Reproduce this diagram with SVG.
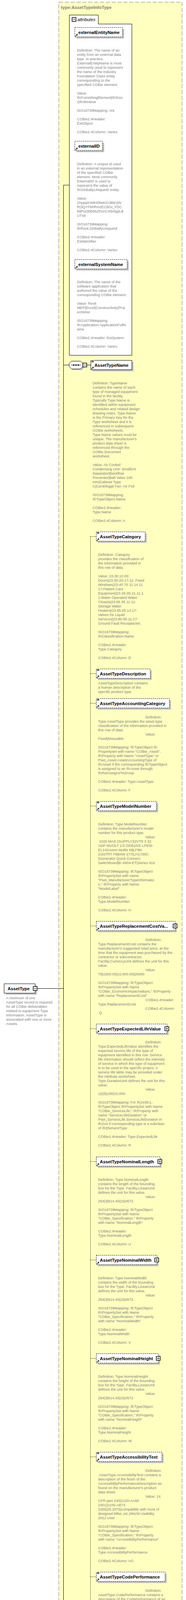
<svg xmlns="http://www.w3.org/2000/svg" width="476" height="7871" viewBox="0 0 476 7871" xml:space="preserve">
<style>
.a{font-family:"Liberation Sans",Arial,sans-serif;font-size:9.3px;fill:#808080}
.nm{font-family:"Liberation Sans",Arial,sans-serif;font-size:11.3px;font-weight:bold;fill:#000}
.ttl{font-family:"Liberation Sans",Arial,sans-serif;font-size:11.3px;font-weight:bold;fill:#808080}
.it{font-family:"Liberation Sans",Arial,sans-serif;font-size:11.2px;font-style:italic;fill:#000}
.sh{fill:#c0c0c0}
.bx{fill:#fff;stroke:#000;stroke-width:1}
.opt{stroke-dasharray:3 2}
.ln{fill:none;stroke:#000;stroke-width:1}
.dt{fill:none;stroke:#000;stroke-width:1;stroke-dasharray:2 2}
</style>
<defs>
<g id="doc"><rect x="0.5" y="-1" width="8" height="6" fill="#fff"/><path d="M1.5,0.5H7.5M1.5,2.3H7.5M1.5,4.1H7.5" stroke="#000" stroke-width="1"/></g>
<g id="ref"><path d="M1.5,-1.5L5,-5" stroke="#000" stroke-width="1.4"/><path d="M3,-7H7V-3Z" fill="#000"/></g>
<g id="plus"><rect x="-5" y="-5" width="10" height="10" fill="#fff" stroke="#000" stroke-width="1.5"/><path d="M-3,0H3M0,-3V3" stroke="#000" stroke-width="1"/></g>
<g id="minus"><rect x="-5" y="-5" width="10" height="10" fill="#fff" stroke="#000" stroke-width="1.5"/><path d="M-3,0H3" stroke="#000" stroke-width="1"/></g>
<g id="seq"><path d="M3,-1L9,-7H32L38,-1V7L32,13H9L3,7Z" fill="#c0c0c0"/><path d="M0,-4L6,-10H29L35,-4V4L29,10H6L0,4Z" fill="#fff" stroke="#000"/><path d="M5,0H30" stroke="#000"/><rect x="10" y="-1.5" width="3" height="3"/><rect x="16" y="-1.5" width="3" height="3"/><rect x="22" y="-1.5" width="3" height="3"/></g>
</defs>

<g id="typeBox">
<rect x="150.5" y="5.5" width="315.5" height="7860" fill="#ffffc0" stroke="#808080" stroke-dasharray="11 4"/>
<text class="ttl" x="156" y="23.2">type:AssetTypeInfoType</text>
</g>

<g id="connectors">
<path class="ln" d="M162.5,474 V4587.5 M162.5,474 H177.5 M95,2530.5 H162.5 M162.5,934.5 H177 M162.5,4587.5 H177 M222,934.5 H232.5"/>
<path class="dt" d="M222,4587.5 H231.5 M231.5,1373.5 V7802.5 M231.5,1373.5 H246 M231.5,1724.5 H246 M231.5,1800.5 H246 M231.5,2063.5 H246 M231.5,2370.5 H246 M231.5,2633.5 H246 M231.5,2973.5 H246 M231.5,3225.5 H246 M231.5,3477.5 H246 M231.5,3729.5 H246 M231.5,4036.5 H246 M231.5,4321.5 H246 M231.5,4661.5 H246 M231.5,4902.5 H246 M231.5,5209.5 H246 M231.5,5505.5 H246 M231.5,5757.5 H246 M231.5,6020.5 H246 M231.5,6261.5 H246 M231.5,6513.5 H246 M231.5,6809.5 H246 M231.5,6929.5 H246 M231.5,7192.5 H246 M231.5,7268.5 H246 M231.5,7355.5 H246 M231.5,7585.5 H246 M231.5,7650.5 H246 M231.5,7726.5 H246 M231.5,7802.5 H246"/>
</g>

<g id="n-AssetType">
<rect class="sh" x="14.5" y="2522.5" width="79.5" height="24"/>
<rect class="bx" x="10.5" y="2518.5" width="79.5" height="24"/>
<text class="nm" x="19.5" y="2534.5">AssetType</text>
<use href="#minus" x="90" y="2530.5"/>
<text class="a" x="15.7" y="2557.7"><tspan x="15.7" dy="0">A minimum of one</tspan><tspan x="15.7" dy="11">AssetType record is required</tspan><tspan x="15.7" dy="11">for all COBie deliverables</tspan><tspan x="15.7" dy="11">related to equipment Type</tspan><tspan x="15.7" dy="11">information. AssetType is</tspan><tspan x="15.7" dy="11">associated with one or more</tspan><tspan x="15.7" dy="11">Assets.</tspan></text>
</g>

<g id="n-attributes">
<path class="bx" d="M177.5,38.5 H251.5 V61.5 H337.5 V909.5 H177.5 Z"/>
<use href="#minus" x="189.5" y="50"/>
<text class="it" x="198" y="54.4">attributes</text>
</g>

<g id="n-externalEntityName">
<rect class="sh" x="195.5" y="74.5" width="122" height="24"/>
<rect class="bx opt" x="191.5" y="70.5" width="122" height="24"/>
<use href="#ref" x="191.5" y="94.5"/>
<text class="nm" x="200.5" y="86.5">externalEntityName</text>
<text class="a" x="197" y="131.8"><tspan x="197" dy="0">Definition:  The name of an</tspan><tspan x="197" dy="11">entity from an external data</tspan><tspan x="197" dy="11">type.  In practice,</tspan><tspan x="197" dy="11">ExternalEntityName is most</tspan><tspan x="197" dy="11">commonly used to represent</tspan><tspan x="197" dy="11">the name of the Industry</tspan><tspan x="197" dy="11">Foundation Class entity</tspan><tspan x="197" dy="11">corresponding to the</tspan><tspan x="197" dy="11">specified COBie element.</tspan><tspan x="197" dy="22">Value:</tspan><tspan x="197" dy="11">IfcFurnishingElement|IfcDoo</tspan><tspan x="197" dy="11">r|IfcWindow</tspan><tspan x="197" dy="22">ISO16739Mapping:  n/a</tspan><tspan x="197" dy="22">COBie2.4Header:</tspan><tspan x="197" dy="11">ExtObject</tspan><tspan x="197" dy="22">COBie2.4Column:  Varies</tspan></text>
</g>

<g id="n-externalID">
<rect class="sh" x="195.5" y="365.5" width="71" height="24"/>
<rect class="bx opt" x="191.5" y="361.5" width="71" height="24"/>
<use href="#ref" x="191.5" y="385.5"/>
<text class="nm" x="200.5" y="377.5">externalID</text>
<text class="a" x="197" y="422.8"><tspan x="197" dy="0">Definition:  A unique id used</tspan><tspan x="197" dy="11">in an external representation</tspan><tspan x="197" dy="11">of the specified COBie</tspan><tspan x="197" dy="11">element. Most commonly</tspan><tspan x="197" dy="11">ExternalID is used to</tspan><tspan x="197" dy="11">represent the value of</tspan><tspan x="197" dy="11">IfcGloballyUniqueID entity.</tspan><tspan x="197" dy="22">Value:</tspan><tspan x="197" dy="11">1hypqXnMHDlwKZc9bkVjN</tspan><tspan x="197" dy="11">R|3QYFkhRmzECBGi_FDC</tspan><tspan x="197" dy="11">88Pu|30b56ZPunCX9x5gIL$</tspan><tspan x="197" dy="11">UTx9</tspan><tspan x="197" dy="22">ISO16739Mapping:</tspan><tspan x="197" dy="11">IfcRoot.GloballyUniqueId</tspan><tspan x="197" dy="22">COBie2.4Header:</tspan><tspan x="197" dy="11">ExtIdentifier</tspan><tspan x="197" dy="22">COBie2.4Column:  Varies</tspan></text>
</g>

<g id="n-externalSystemName">
<rect class="sh" x="195.5" y="668.5" width="134" height="24"/>
<rect class="bx opt" x="191.5" y="664.5" width="134" height="24"/>
<use href="#ref" x="191.5" y="688.5"/>
<text class="nm" x="200.5" y="680.5">externalSystemName</text>
<text class="a" x="197" y="724.6"><tspan x="197" dy="0">Definition:  The name of the</tspan><tspan x="197" dy="11">software application that</tspan><tspan x="197" dy="11">authored the value of the</tspan><tspan x="197" dy="11">corresponding COBie element.</tspan><tspan x="197" dy="22">Value:  Revit</tspan><tspan x="197" dy="11">MEP|Excel|Constructivity|Proj</tspan><tspan x="197" dy="11">ectWise</tspan><tspan x="197" dy="22">ISO16739Mapping:</tspan><tspan x="197" dy="11">IfcApplication.ApplicationFullN</tspan><tspan x="197" dy="11">ame</tspan><tspan x="197" dy="22">COBie2.4Header:  ExtSystem</tspan><tspan x="197" dy="22">COBie2.4Column:  Varies</tspan></text>
</g>

<g id="n-sequence1">
<use href="#seq" x="177" y="934.5"/>
<use href="#minus" x="217" y="934.5"/>
</g>

<g id="n-AssetTypeName">
<rect class="sh" x="236.5" y="926.5" width="105" height="24"/>
<rect class="bx" x="232.5" y="922.5" width="105" height="24"/>
<use href="#doc" x="232.5" y="922.5"/>
<use href="#ref" x="232.5" y="946.5"/>
<text class="nm" x="241.7" y="938.5">AssetTypeName</text>
<text class="a" x="237" y="983.6"><tspan x="237" dy="0">Definition:  TypeName</tspan><tspan x="237" dy="11">contains the name of each</tspan><tspan x="237" dy="11">type of managed equipment</tspan><tspan x="237" dy="11">found in the facility.</tspan><tspan x="237" dy="11">Typically Type.Name is</tspan><tspan x="237" dy="11">identified within equipment</tspan><tspan x="237" dy="11">schedules and related design</tspan><tspan x="237" dy="11">drawing notes.  Type.Name</tspan><tspan x="237" dy="11">is the Primary Key for the</tspan><tspan x="237" dy="11">Type worksheet and it is</tspan><tspan x="237" dy="11">referenced in subsequent</tspan><tspan x="237" dy="11">COBie worksheets.</tspan><tspan x="237" dy="11">Type.Name values must be</tspan><tspan x="237" dy="11">unique.  The manufacturer's</tspan><tspan x="237" dy="11">product data sheet is</tspan><tspan x="237" dy="11">referenced through the</tspan><tspan x="237" dy="11">COBie.Document</tspan><tspan x="237" dy="11">worksheet.</tspan><tspan x="237" dy="22">Value:  Air Cooled</tspan><tspan x="237" dy="11">Condensing Unit- Small|Air</tspan><tspan x="237" dy="11">Separator|Backflow</tspan><tspan x="237" dy="11">Preventer|Ball Valve 100</tspan><tspan x="237" dy="11">mm|Cabinet Type</tspan><tspan x="237" dy="11">C|Centrifugal Fan- Air Foil</tspan><tspan x="237" dy="22">ISO16739Mapping:</tspan><tspan x="237" dy="11">IfcTypeObject.Name</tspan><tspan x="237" dy="22">COBie2.4Header:</tspan><tspan x="237" dy="11">Type.Name</tspan><tspan x="237" dy="22">COBie2.4Column:  A</tspan></text>
</g>

<g id="n-sequence2">
<use href="#seq" x="177" y="4587.5"/>
<use href="#minus" x="217" y="4587.5"/>
</g>

<g id="n-AssetTypeCategory">
<rect class="sh" x="250.5" y="1365.5" width="125" height="24"/>
<rect class="bx opt" x="246.5" y="1361.5" width="125" height="24"/>
<use href="#doc" x="246.5" y="1361.5"/>
<use href="#ref" x="246.5" y="1385.5"/>
<text class="nm" x="255.5" y="1377.5">AssetTypeCategory</text>
<text class="a" x="251" y="1422.7"><tspan x="251" dy="0">Definition:  Category</tspan><tspan x="251" dy="11">provides the classification of</tspan><tspan x="251" dy="11">the information provided in</tspan><tspan x="251" dy="11">this row of data.</tspan><tspan x="251" dy="22">Value:  23.30.10.00:</tspan><tspan x="251" dy="11">Doors|23.30-20-17-11: Fixed</tspan><tspan x="251" dy="11">Windows|23-40 70 11 14 11</tspan><tspan x="251" dy="11">17:Patient Care</tspan><tspan x="251" dy="11">Equipment|23.45.05.21.11.1</tspan><tspan x="251" dy="11">1:Water Operated Water</tspan><tspan x="251" dy="11">Closets|23.65 35 11 11:</tspan><tspan x="251" dy="11">Storage Water</tspan><tspan x="251" dy="11">Heaters|23.65.55.14.17:</tspan><tspan x="251" dy="11">Valves for Liquid</tspan><tspan x="251" dy="11">Services|23.80.50.11.17:</tspan><tspan x="251" dy="11">Ground Fault Receptacles</tspan><tspan x="251" dy="22">ISO16739Mapping:</tspan><tspan x="251" dy="11">IfcClassification.Name</tspan><tspan x="251" dy="22">COBie2.4Header:</tspan><tspan x="251" dy="11">Type.Category</tspan><tspan x="251" dy="22">COBie2.4Column:  D</tspan></text>
</g>

<g id="n-AssetTypeDescription">
<rect class="sh" x="250.5" y="1716.5" width="138" height="24"/>
<rect class="bx opt" x="246.5" y="1712.5" width="138" height="24"/>
<use href="#doc" x="246.5" y="1712.5"/>
<use href="#ref" x="246.5" y="1736.5"/>
<text class="nm" x="255.5" y="1728.5">AssetTypeDescription</text>
<text class="a" x="251" y="1751.8"><tspan x="251" dy="0">AssetTypeDescription contains</tspan><tspan x="251" dy="11">a human description of the</tspan><tspan x="251" dy="11">specific product type.</tspan></text>
</g>

<g id="n-AssetTypeAccountingCategory">
<rect class="sh" x="250.5" y="1792.5" width="187" height="24"/>
<rect class="bx opt" x="246.5" y="1788.5" width="187" height="24"/>
<use href="#doc" x="246.5" y="1788.5"/>
<use href="#ref" x="246.5" y="1812.5"/>
<text class="nm" x="255.5" y="1804.5">AssetTypeAccountingCategory</text>
<text class="a" x="251" y="1838.9"><tspan x="372" dy="0">Definition:</tspan><tspan x="251" dy="11">Type.AssetType provides the asset type</tspan><tspan x="251" dy="11">classification of the information provided in</tspan><tspan x="251" dy="11">this row of data.</tspan><tspan x="372" dy="11">Value:</tspan><tspan x="251" dy="11">Fixed|Moveable</tspan><tspan x="251" dy="22">ISO16739Mapping:  IfcTypeObject Ifc</tspan><tspan x="251" dy="11">Propertyset with name "COBie_Asset",</tspan><tspan x="251" dy="11">IfcProperty with Name "AssetType" or</tspan><tspan x="251" dy="11">Pset_Asset.AssetAccountingType of</tspan><tspan x="251" dy="11">IfcAsset if the corresponding IfcTypeObject</tspan><tspan x="251" dy="11">is assigned to an IfcAsset through</tspan><tspan x="251" dy="11">IfcRelAssignsToGroup</tspan><tspan x="251" dy="22">COBie2.4Header:  Type.AssetType</tspan><tspan x="251" dy="22">COBie2.4Column:  F</tspan></text>
</g>

<g id="n-AssetTypeModelNumber">
<rect class="sh" x="250.5" y="2055.5" width="154" height="24"/>
<rect class="bx opt" x="246.5" y="2051.5" width="154" height="24"/>
<use href="#doc" x="246.5" y="2051.5"/>
<use href="#ref" x="246.5" y="2075.5"/>
<text class="nm" x="255.5" y="2067.5">AssetTypeModelNumber</text>
<text class="a" x="251" y="2112.9"><tspan x="251" dy="0">Definition:  Type.ModelNumber</tspan><tspan x="251" dy="11">contains the manufacturer's model</tspan><tspan x="251" dy="11">number for this product type.</tspan><tspan x="372" dy="11">Value:</tspan><tspan x="251" dy="11"> 1020 MAS (SUPPLY)|2VT8 3 32</tspan><tspan x="251" dy="11">ADP MVOLT 1/3 GEB10IS LP830</tspan><tspan x="251" dy="11">EL14|Axiom Multix M|LF8N</tspan><tspan x="251" dy="11">2/26TRT F8B4W 277|LH1720C</tspan><tspan x="251" dy="11">|Generator Quick Connect</tspan><tspan x="251" dy="11">Switchboard|K-4904-ET|Series 416</tspan><tspan x="251" dy="22">ISO16739Mapping:  IfcTypeObject</tspan><tspan x="251" dy="11">IfcPropertySet with name</tspan><tspan x="251" dy="11">"Pset_ManufacturerTypeInformatio</tspan><tspan x="251" dy="11">n,"  IfcProperty with Name</tspan><tspan x="251" dy="11">"ModelLabel"</tspan><tspan x="251" dy="22">COBie2.4Header:</tspan><tspan x="251" dy="11">Type.ModelNumber</tspan><tspan x="251" dy="22">COBie2.4Column:  H</tspan></text>
</g>

<g id="n-AssetTypeReplacementCostValue">
<rect class="sh" x="250.5" y="2362.5" width="202" height="24"/>
<rect class="bx opt" x="246.5" y="2358.5" width="202" height="24"/>
<use href="#ref" x="246.5" y="2382.5"/>
<text class="nm" x="255.5" y="2374.5">AssetTypeReplacementCostVa...</text>
<use href="#plus" x="448" y="2370.5"/>
<text class="a" x="251" y="2408.5"><tspan x="372" dy="0">Definition:</tspan><tspan x="251" dy="11">Type.ReplacementCost contains the</tspan><tspan x="251" dy="11">manufacturer's suggested retail price, at the</tspan><tspan x="251" dy="11">time that the equipment was purchased by the</tspan><tspan x="251" dy="11">contractor or subcontractor.</tspan><tspan x="251" dy="11">Facility.CurrencyUnit defines the unit for this</tspan><tspan x="251" dy="11">value.</tspan><tspan x="372" dy="11">Value:</tspan><tspan x="251" dy="11">75|1500.00|10,000.00|25000</tspan><tspan x="251" dy="22">ISO16739Mapping:  IfcTypeObject</tspan><tspan x="251" dy="11">IfcPropertySet with Name</tspan><tspan x="251" dy="11">"COBie_EconomicImpactValues," IfcProperty</tspan><tspan x="251" dy="11">with name  "ReplacementCost"</tspan><tspan x="372" dy="11">COBie2.4Header:</tspan><tspan x="251" dy="11">Type.ReplacementCost</tspan><tspan x="372" dy="11">COBie2.4Column:</tspan><tspan x="251" dy="11"> Q</tspan></text>
</g>

<g id="n-AssetTypeExpectedLifeValue">
<rect class="sh" x="250.5" y="2625.5" width="181" height="24"/>
<rect class="bx opt" x="246.5" y="2621.5" width="181" height="24"/>
<use href="#ref" x="246.5" y="2645.5"/>
<text class="nm" x="255.5" y="2637.5">AssetTypeExpectedLifeValue</text>
<use href="#plus" x="427" y="2633.5"/>
<text class="a" x="251" y="2671.3"><tspan x="372" dy="0">Definition:</tspan><tspan x="251" dy="11">Type.ExpectedLifeValue identifies the</tspan><tspan x="251" dy="11">expected service life of the type of</tspan><tspan x="251" dy="11">equipment identified in this row.  Service</tspan><tspan x="251" dy="11">life information should reflect the intensity</tspan><tspan x="251" dy="11">of service in which this type of equipment</tspan><tspan x="251" dy="11">is to be used in the specific project.  A</tspan><tspan x="251" dy="11">service life table may be provided under</tspan><tspan x="251" dy="11">the Attribute worksheet.</tspan><tspan x="251" dy="11">Type.DurationUnit defines the unit for this</tspan><tspan x="251" dy="11">value.</tspan><tspan x="372" dy="11">Value:</tspan><tspan x="251" dy="11">1|2|5|100|10,000</tspan><tspan x="251" dy="22">ISO16739Mapping: For Ifc2x3tc1,</tspan><tspan x="251" dy="11">IfcTypeObject IfcPropertySet with Name</tspan><tspan x="251" dy="11">"COBie_ServiceLife," IfcProperty with</tspan><tspan x="251" dy="11">name  "ServiceLifeDuration" or</tspan><tspan x="251" dy="11">Pset_ServiceLife.ServiceLifeDuration in</tspan><tspan x="251" dy="11">Ifc2x4 if corresponding type is a subclass</tspan><tspan x="251" dy="11">of IfcElementType</tspan><tspan x="251" dy="22">COBie2.4Header:  Type.ExpectedLife</tspan><tspan x="251" dy="22">COBie2.4Column:  R</tspan></text>
</g>

<g id="n-AssetTypeNominalLength">
<rect class="sh" x="250.5" y="2965.5" width="163" height="24"/>
<rect class="bx opt" x="246.5" y="2961.5" width="163" height="24"/>
<use href="#ref" x="246.5" y="2985.5"/>
<text class="nm" x="255.5" y="2977.5">AssetTypeNominalLength</text>
<use href="#plus" x="409" y="2973.5"/>
<text class="a" x="251" y="3022.8"><tspan x="251" dy="0">Definition:  Type.NominalLength</tspan><tspan x="251" dy="11">contains the length of the bounding</tspan><tspan x="251" dy="11">box for the Type.  Facility.LinearUnit</tspan><tspan x="251" dy="11">defines the unit for this value.</tspan><tspan x="372" dy="11">Value:</tspan><tspan x="251" dy="11">254|3|914.40|15|4572</tspan><tspan x="251" dy="22">ISO16739Mapping: IfcTypeObject</tspan><tspan x="251" dy="11">IfcPropertySet with Name</tspan><tspan x="251" dy="11">"COBie_Specification," IfcProperty</tspan><tspan x="251" dy="11">with name "NominalLength"</tspan><tspan x="251" dy="22">COBie2.4Header:</tspan><tspan x="251" dy="11">Type.NominalLength</tspan><tspan x="251" dy="22">COBie2.4Column:  U</tspan></text>
</g>

<g id="n-AssetTypeNominalWidth">
<rect class="sh" x="250.5" y="3217.5" width="155" height="24"/>
<rect class="bx opt" x="246.5" y="3213.5" width="155" height="24"/>
<use href="#ref" x="246.5" y="3237.5"/>
<text class="nm" x="255.5" y="3229.5">AssetTypeNominalWidth</text>
<use href="#plus" x="401" y="3225.5"/>
<text class="a" x="251" y="3274.8"><tspan x="251" dy="0">Definition:  Type.NominalWidth</tspan><tspan x="251" dy="11">contains the width of the bounding</tspan><tspan x="251" dy="11">box for the Type.  Facility.LinearUnit</tspan><tspan x="251" dy="11">defines the unit for this value.</tspan><tspan x="372" dy="11">Value:</tspan><tspan x="251" dy="11">254|3|914.40|15|4572</tspan><tspan x="251" dy="22">ISO16739Mapping:  IfcTypeObject</tspan><tspan x="251" dy="11">IfcPropertySet with Name</tspan><tspan x="251" dy="11">"COBie_Specification," IfcProperty</tspan><tspan x="251" dy="11">with name "NominalWidth"</tspan><tspan x="251" dy="22">COBie2.4Header:</tspan><tspan x="251" dy="11">Type.NominalWidth</tspan><tspan x="251" dy="22">COBie2.4Column:  V</tspan></text>
</g>

<g id="n-AssetTypeNominalHeight">
<rect class="sh" x="250.5" y="3469.5" width="159" height="24"/>
<rect class="bx opt" x="246.5" y="3465.5" width="159" height="24"/>
<use href="#ref" x="246.5" y="3489.5"/>
<text class="nm" x="255.5" y="3481.5">AssetTypeNominalHeight</text>
<use href="#plus" x="405" y="3477.5"/>
<text class="a" x="251" y="3526.9"><tspan x="251" dy="0">Definition:  Type.NominalHeight</tspan><tspan x="251" dy="11">contains the height of the bounding</tspan><tspan x="251" dy="11">box for the Type.  Facility.LinearUnit</tspan><tspan x="251" dy="11">defines the unit for this value.</tspan><tspan x="372" dy="11">Value:</tspan><tspan x="251" dy="11">254|3|914.40|15|4572</tspan><tspan x="251" dy="22">ISO16739Mapping:  IfcTypeObject</tspan><tspan x="251" dy="11">IfcPropertySet with Name</tspan><tspan x="251" dy="11">"COBie_Specification," IfcProperty</tspan><tspan x="251" dy="11">with name "NominalHeight"</tspan><tspan x="251" dy="22">COBie2.4Header:</tspan><tspan x="251" dy="11">Type.NominalHeight</tspan><tspan x="251" dy="22">COBie2.4Column:  W</tspan></text>
</g>

<g id="n-AssetTypeAccessibilityText">
<rect class="sh" x="250.5" y="3721.5" width="168" height="24"/>
<rect class="bx opt" x="246.5" y="3717.5" width="168" height="24"/>
<use href="#doc" x="246.5" y="3717.5"/>
<use href="#ref" x="246.5" y="3741.5"/>
<text class="nm" x="255.5" y="3733.5">AssetTypeAccessibilityText</text>
<text class="a" x="251" y="3767.7"><tspan x="372" dy="0">Definition:</tspan><tspan x="251" dy="11"> AssetType.AccessibilityText contains a</tspan><tspan x="251" dy="11">description of the finish of the</tspan><tspan x="251" dy="11">AccessibilityPerformanceDescription as</tspan><tspan x="251" dy="11">found on the manufacturer's product</tspan><tspan x="251" dy="11">data sheet.</tspan><tspan x="372" dy="11">Value: 14</tspan><tspan x="251" dy="11">CFR part 240|2120-AA66</tspan><tspan x="251" dy="11">2401|2105-AB73</tspan><tspan x="251" dy="11">2255|25.2075|compatible with most of</tspan><tspan x="251" dy="11">designed billet, etc.|World Usability</tspan><tspan x="251" dy="11">2012 User</tspan><tspan x="251" dy="22">ISO16739Mapping:  IfcTypeObject</tspan><tspan x="251" dy="11">IfcPropertySet with Name</tspan><tspan x="251" dy="11">"COBie_Specification," IfcProperty</tspan><tspan x="251" dy="11">with name "AccessibilityPerformance"</tspan><tspan x="251" dy="22">COBie2.4Header:</tspan><tspan x="251" dy="11">Type.AccessibilityPerformance</tspan><tspan x="251" dy="22">COBie2.4Column:  AG</tspan></text>
</g>

<g id="n-AssetTypeCodePerformance">
<rect class="sh" x="250.5" y="4028.5" width="176" height="24"/>
<rect class="bx opt" x="246.5" y="4024.5" width="176" height="24"/>
<use href="#doc" x="246.5" y="4024.5"/>
<use href="#ref" x="246.5" y="4048.5"/>
<text class="nm" x="255.5" y="4040.5">AssetTypeCodePerformance</text>
<text class="a" x="251" y="4074.5"><tspan x="372" dy="0">Definition:</tspan><tspan x="251" dy="11">AssetType.CodePerformance contains a</tspan><tspan x="251" dy="11">description of the CodePerformance of an</tspan><tspan x="251" dy="11">AssetType as found on the</tspan><tspan x="251" dy="11">manufacturer's product data sheet.</tspan><tspan x="372" dy="11">Value:</tspan><tspan x="251" dy="11">2006 International Fuel Gas Code|ASTM</tspan><tspan x="251" dy="11">C645 ;amp C754|British Standards</tspan><tspan x="251" dy="11">Institute|ESR-3307|NFPA|NFRC 708.01</tspan><tspan x="251" dy="11">- NFRC CMA</tspan><tspan x="251" dy="22">ISO16739Mapping: IfcTypeObject</tspan><tspan x="251" dy="11">IfcPropertySet with Name</tspan><tspan x="251" dy="11">"COBie_Specification," IfcProperty with</tspan><tspan x="251" dy="11">name "CodePerformance"</tspan><tspan x="251" dy="22">COBie2.4Header:</tspan><tspan x="251" dy="11">Type.CodePerformance</tspan><tspan x="251" dy="22">COBie2.4Column:  AH</tspan></text>
</g>

<g id="n-AssetTypeColorCode">
<rect class="sh" x="250.5" y="4313.5" width="134" height="24"/>
<rect class="bx opt" x="246.5" y="4309.5" width="134" height="24"/>
<use href="#doc" x="246.5" y="4309.5"/>
<use href="#ref" x="246.5" y="4333.5"/>
<text class="nm" x="255.5" y="4325.5">AssetTypeColorCode</text>
<text class="a" x="251" y="4370.5"><tspan x="251" dy="0">Definition:</tspan><tspan x="251" dy="11">AssetType.ColorCode contains</tspan><tspan x="251" dy="11">a description of the</tspan><tspan x="251" dy="11">ColorDescription of the</tspan><tspan x="251" dy="11">AssetType as found on the</tspan><tspan x="251" dy="11">manufacturer's product data</tspan><tspan x="251" dy="11">sheet.</tspan><tspan x="251" dy="22">Value:</tspan><tspan x="251" dy="11">#5252C0|222-184-135|Any</tspan><tspan x="251" dy="11">colors available or customers</tspan><tspan x="251" dy="11">colors|deb887|Green|Light</tspan><tspan x="251" dy="11">Salmon |White, Black, Beige</tspan><tspan x="251" dy="22">ISO16739Mapping:</tspan><tspan x="251" dy="11">IfcTypeObject IfcPropertySet</tspan><tspan x="251" dy="11">with Name</tspan><tspan x="251" dy="11">"COBie_Specification,"</tspan><tspan x="251" dy="11">IfcProperty with name "Color"</tspan><tspan x="251" dy="11">and/or "Colour"</tspan><tspan x="251" dy="22">COBie2.4Header:  Type.Color</tspan><tspan x="251" dy="22">COBie2.4Column:  AA</tspan></text>
</g>

<g id="n-AssetTypeConstituentsDescription">
<rect class="sh" x="250.5" y="4653.5" width="202" height="24"/>
<rect class="bx opt" x="246.5" y="4649.5" width="202" height="24"/>
<use href="#doc" x="246.5" y="4649.5"/>
<use href="#ref" x="246.5" y="4673.5"/>
<text class="nm" x="255.5" y="4665.5">AssetTypeConstituentsDescript...</text>
<text class="a" x="251" y="4699.6"><tspan x="372" dy="0">Definition:</tspan><tspan x="251" dy="11">AssetType.ConstituentsDescription contains a</tspan><tspan x="251" dy="11">description of the ConstituentsDescription of the</tspan><tspan x="251" dy="11">Type as found on the manufacturer's product</tspan><tspan x="251" dy="11">data sheet.</tspan><tspan x="372" dy="11">Value:</tspan><tspan x="251" dy="11">Aggregate|Cement|Concrete|Benzol|Gypsum</tspan><tspan x="251" dy="22">ISO16739Mapping: IfcTypeObject</tspan><tspan x="251" dy="11">IfcPropertySet with Name</tspan><tspan x="251" dy="11">"COBie_Specification," IfcProperty with name</tspan><tspan x="251" dy="11">"Constituents"</tspan><tspan x="372" dy="11">COBie2.4Header:</tspan><tspan x="251" dy="11">Type.Constituents</tspan><tspan x="372" dy="11">COBie2.4Column:</tspan><tspan x="251" dy="11"> AE</tspan></text>
</g>

<g id="n-AssetTypeFeaturesDescription">
<rect class="sh" x="250.5" y="4894.5" width="187" height="24"/>
<rect class="bx opt" x="246.5" y="4890.5" width="187" height="24"/>
<use href="#doc" x="246.5" y="4890.5"/>
<use href="#ref" x="246.5" y="4914.5"/>
<text class="nm" x="255.5" y="4906.5">AssetTypeFeaturesDescription</text>
<text class="a" x="251" y="4940.5"><tspan x="372" dy="0">Definition:</tspan><tspan x="251" dy="11">AssetType.FeaturesDescription is a</tspan><tspan x="251" dy="11">description of the FeaturesDescription of the</tspan><tspan x="251" dy="11">Type as found on the manufacturer's</tspan><tspan x="251" dy="11">product data sheet.</tspan><tspan x="372" dy="11">Value:  100%</tspan><tspan x="251" dy="11">Biodegradable|55 gallon; 12 bags per</tspan><tspan x="251" dy="11">roll|Attic Energy Barrier, etc.|Cornerboards,</tspan><tspan x="251" dy="11">Skirtboards, etc.|Personalized presidential</tspan><tspan x="251" dy="11">technicians, etc.|other reef-building</tspan><tspan x="251" dy="11">invertebrates|Terra-cotta, a molded fired</tspan><tspan x="251" dy="11">clay, etc.</tspan><tspan x="251" dy="22">ISO16739Mapping: IfcTypeObject</tspan><tspan x="251" dy="11">IfcPropertySet with Name</tspan><tspan x="251" dy="11">"COBie_Specification," IfcProperty with</tspan><tspan x="251" dy="11">name "Features"</tspan><tspan x="251" dy="33">COBie2.4Header:  Type.Features</tspan><tspan x="251" dy="22">COBie2.4Column:  AF</tspan></text>
</g>

<g id="n-AssetTypeFinishDescription">
<rect class="sh" x="250.5" y="5201.5" width="171" height="24"/>
<rect class="bx opt" x="246.5" y="5197.5" width="171" height="24"/>
<use href="#doc" x="246.5" y="5197.5"/>
<use href="#ref" x="246.5" y="5221.5"/>
<text class="nm" x="255.5" y="5213.5">AssetTypeFinishDescription</text>
<text class="a" x="251" y="5247.6"><tspan x="372" dy="0">Definition:</tspan><tspan x="251" dy="11">AssetType.FinishDescriptioncontains a</tspan><tspan x="251" dy="11">description of the FinishDescription of</tspan><tspan x="251" dy="11">the Type as found on the</tspan><tspan x="251" dy="11">manufacturer's product data sheet.</tspan><tspan x="372" dy="11">Value:</tspan><tspan x="251" dy="11">Anodized (Dk. Gray)|GOLD FLASH</tspan><tspan x="251" dy="11">over Nickel Flash|PASSIVATE -</tspan><tspan x="251" dy="11">MIL-F-14072-C|Paint|QQN290-A Class</tspan><tspan x="251" dy="11">1, GradeDescription F (Thickness</tspan><tspan x="251" dy="11">-.0004-SB)|Titanium zirconium|Zinc</tspan><tspan x="251" dy="11">Plate</tspan><tspan x="251" dy="22">ISO16739Mapping: IfcTypeObject</tspan><tspan x="251" dy="11">IfcPropertySet with Name</tspan><tspan x="251" dy="11">"COBie_Specification," IfcProperty with</tspan><tspan x="251" dy="11">name "Finish"</tspan><tspan x="251" dy="22">COBie2.4Header:  Type.Finish</tspan><tspan x="251" dy="22">COBie2.4Column:  AB</tspan></text>
</g>

<g id="n-AssetTypeGradeDescription">
<rect class="sh" x="250.5" y="5497.5" width="171" height="24"/>
<rect class="bx opt" x="246.5" y="5493.5" width="171" height="24"/>
<use href="#doc" x="246.5" y="5493.5"/>
<use href="#ref" x="246.5" y="5517.5"/>
<text class="nm" x="255.5" y="5509.5">AssetTypeGradeDescription</text>
<text class="a" x="251" y="5543.6"><tspan x="372" dy="0">Definition:</tspan><tspan x="251" dy="11">AssetType.GradeDescription contains a</tspan><tspan x="251" dy="11">description of the GradeDescription of</tspan><tspan x="251" dy="11">the Type as found on the</tspan><tspan x="251" dy="11">manufacturer's product data sheet.</tspan><tspan x="372" dy="11">Value:</tspan><tspan x="251" dy="11">409|Chromium-vanadium steels|Heart</tspan><tspan x="251" dy="11">B|LDPE|S40900</tspan><tspan x="251" dy="22">ISO16739Mapping: IfcTypeObject</tspan><tspan x="251" dy="11">IfcPropertySet with Name</tspan><tspan x="251" dy="11">"COBie_Specification," IfcProperty with</tspan><tspan x="251" dy="11">name "Grade"</tspan><tspan x="251" dy="22">COBie2.4Header:  Type.Grade</tspan><tspan x="251" dy="22">COBie2.4Column:  AC</tspan></text>
</g>

<g id="n-AssetTypeMaterialDescription">
<rect class="sh" x="250.5" y="5749.5" width="182" height="24"/>
<rect class="bx opt" x="246.5" y="5745.5" width="182" height="24"/>
<use href="#doc" x="246.5" y="5745.5"/>
<use href="#ref" x="246.5" y="5769.5"/>
<text class="nm" x="255.5" y="5761.5">AssetTypeMaterialDescription</text>
<text class="a" x="251" y="5795.7"><tspan x="372" dy="0">Definition:</tspan><tspan x="251" dy="11">AssetType.MaterialDescription contains a</tspan><tspan x="251" dy="11">description of the MaterialDescription of</tspan><tspan x="251" dy="11">the Type as found on the manufacturer's</tspan><tspan x="251" dy="11">product data sheet.</tspan><tspan x="372" dy="11">Value:</tspan><tspan x="251" dy="11">100% Polyester</tspan><tspan x="251" dy="11">|Bamboo|Fiberglass|Plywood|Water-Resis</tspan><tspan x="251" dy="11">tant Gypsum Backing Board</tspan><tspan x="251" dy="22">ISO16739Mapping:  IfcTypeObject</tspan><tspan x="251" dy="11">IfcPropertySet with Name</tspan><tspan x="251" dy="11">"COBie_Specification," IfcProperty with</tspan><tspan x="251" dy="11">name "Material"</tspan><tspan x="251" dy="22">COBie2.4Header:  Type.Material</tspan><tspan x="251" dy="22">COBie2.4Column:  AD</tspan></text>
</g>

<g id="n-AssetTypeShapeDescription">
<rect class="sh" x="250.5" y="6012.5" width="172" height="24"/>
<rect class="bx opt" x="246.5" y="6008.5" width="172" height="24"/>
<use href="#doc" x="246.5" y="6008.5"/>
<use href="#ref" x="246.5" y="6032.5"/>
<text class="nm" x="255.5" y="6024.5">AssetTypeShapeDescription</text>
<text class="a" x="251" y="6058.5"><tspan x="372" dy="0">Definition:</tspan><tspan x="251" dy="11">AssetType.ShapeDescription contains a</tspan><tspan x="251" dy="11">description of the ShapeDescription of</tspan><tspan x="251" dy="11">the Type as found on the</tspan><tspan x="251" dy="11">manufacturer's product data sheet.</tspan><tspan x="372" dy="11">Value:</tspan><tspan x="251" dy="11">Cube|Oblong|Round|Square</tspan><tspan x="251" dy="22">ISO16739Mapping:  IfcTypeObject</tspan><tspan x="251" dy="11">IfcPropertySet with Name</tspan><tspan x="251" dy="11">"COBie_Specification," IfcProperty with</tspan><tspan x="251" dy="11">name "Shape"</tspan><tspan x="251" dy="22">COBie2.4Header:  Type.Shape</tspan><tspan x="251" dy="22">COBie2.4Column:  Y</tspan></text>
</g>

<g id="n-AssetTypeSizeDescription">
<rect class="sh" x="250.5" y="6253.5" width="161" height="24"/>
<rect class="bx opt" x="246.5" y="6249.5" width="161" height="24"/>
<use href="#doc" x="246.5" y="6249.5"/>
<use href="#ref" x="246.5" y="6273.5"/>
<text class="nm" x="255.5" y="6265.5">AssetTypeSizeDescription</text>
<text class="a" x="251" y="6310.5"><tspan x="251" dy="0">Definition:</tspan><tspan x="251" dy="11">AssetType.SizeDescription contains a</tspan><tspan x="251" dy="11">description of the Size of the Type as</tspan><tspan x="251" dy="11">found on the manufacturer's product</tspan><tspan x="251" dy="11">data sheet.</tspan><tspan x="372" dy="11">Value:</tspan><tspan x="251" dy="11">Small|Medium|L|Large</tspan><tspan x="251" dy="22">ISO16739Mapping:  IfcTypeObject</tspan><tspan x="251" dy="11">IfcPropertySet with Name</tspan><tspan x="251" dy="11">"COBie_Specification," IfcProperty</tspan><tspan x="251" dy="11">with name "Size"</tspan><tspan x="251" dy="22">COBie2.4Header:  Type.Size</tspan><tspan x="251" dy="22">COBie2.4Column:  Z</tspan></text>
</g>

<g id="n-AssetTypeSustainabilityPerformance">
<rect class="sh" x="250.5" y="6505.5" width="202" height="24"/>
<rect class="bx opt" x="246.5" y="6501.5" width="202" height="24"/>
<use href="#doc" x="246.5" y="6501.5"/>
<use href="#ref" x="246.5" y="6525.5"/>
<text class="nm" x="255.5" y="6517.5">AssetTypeSustainabilityPerfor...</text>
<text class="a" x="251" y="6551.4"><tspan x="372" dy="0">Definition:</tspan><tspan x="251" dy="11">AssetType.SustainabilityPerformanceDescriptio</tspan><tspan x="251" dy="11">n contains a description of the</tspan><tspan x="251" dy="11">SustainabilityPerformanceDescription of the</tspan><tspan x="251" dy="11">Type as found on the manufacturer's product</tspan><tspan x="251" dy="11">data sheet.</tspan><tspan x="372" dy="11">Value:  3 GHG</tspan><tspan x="251" dy="11">emissions in absolute terms|CDPH</tspan><tspan x="251" dy="11">Standard|Electronic Product Environmental</tspan><tspan x="251" dy="11">Assessment Tool |Modified ASTM D 1037</tspan><tspan x="251" dy="11">Procedure|National Environmental Policy Act</tspan><tspan x="251" dy="11">1969|post-consumer 53%, pre-consumer 8%</tspan><tspan x="251" dy="22">ISO16739Mapping: IfcTypeObject</tspan><tspan x="251" dy="11">IfcPropertySet with Name</tspan><tspan x="251" dy="11">"COBie_Specification," IfcProperty with name</tspan><tspan x="251" dy="11">"SustainabilityPerformance"</tspan><tspan x="372" dy="11">COBie2.4Header:</tspan><tspan x="251" dy="11">Type.SustainabilityPerformance</tspan><tspan x="372" dy="11">COBie2.4Column:</tspan><tspan x="251" dy="11"> AI</tspan></text>
</g>

<g id="n-Assets">
<rect class="sh" x="250.5" y="6801.5" width="61" height="24"/>
<rect class="bx opt" x="246.5" y="6797.5" width="61" height="24"/>
<use href="#ref" x="246.5" y="6821.5"/>
<text class="nm" x="255.5" y="6813.5">Assets</text>
<use href="#plus" x="307" y="6809.5"/>
<text class="a" x="251" y="6836.6"><tspan x="251" dy="0">A set of managed assets</tspan><tspan x="251" dy="11">found in a specific Facility.</tspan><tspan x="251" dy="11">These are typically</tspan><tspan x="251" dy="11">manufactured and purchased</tspan><tspan x="251" dy="11">products in a space that are</tspan><tspan x="251" dy="11">marked with serial number</tspan><tspan x="251" dy="11">and barcode identification.</tspan></text>
</g>

<g id="n-AssetTypeManufacturerContactAssignments">
<rect class="sh" x="250.5" y="6921.5" width="202" height="24"/>
<rect class="bx opt" x="246.5" y="6917.5" width="202" height="24"/>
<use href="#ref" x="246.5" y="6941.5"/>
<text class="nm" x="255.5" y="6933.5">AssetTypeManufacturerContac...</text>
<use href="#plus" x="448" y="6929.5"/>
<text class="a" x="251" y="6967.6"><tspan x="372" dy="0">Definition:</tspan><tspan x="251" dy="11">AssetTypeManufacturerContactAssignments is</tspan><tspan x="251" dy="11">a list of Contact elements that reprsent the</tspan><tspan x="251" dy="11">manufactrer of the AssetType.</tspan><tspan x="372" dy="11">Value:</tspan><tspan x="251" dy="11">mariangelica.carrasquillo@usace.army.mil|sales</tspan><tspan x="251" dy="11">@panelfold.com|info@modernfold.com|info@hu</tspan><tspan x="251" dy="11">fcor.com|karpensteel@karpensteel.com|contact</tspan><tspan x="251" dy="11">@securalldoors.com|sales@marvin.com</tspan><tspan x="251" dy="22">ISO16739Mapping:  IfcTypeObject</tspan><tspan x="251" dy="11">IfcPropertySet with name</tspan><tspan x="251" dy="11">"Pset_ManufacturerTypeInformation,"</tspan><tspan x="251" dy="11">IfcProperty with Name "Manufacturer"</tspan><tspan x="372" dy="11">COBie2.4Header:</tspan><tspan x="251" dy="11">Type.Manufacturer</tspan><tspan x="372" dy="11">COBie2.4Column:</tspan><tspan x="251" dy="11"> G</tspan></text>
</g>

<g id="n-Warranties">
<rect class="sh" x="250.5" y="7184.5" width="81" height="24"/>
<rect class="bx opt" x="246.5" y="7180.5" width="81" height="24"/>
<use href="#ref" x="246.5" y="7204.5"/>
<text class="nm" x="255.5" y="7196.5">Warranties</text>
<use href="#plus" x="327" y="7192.5"/>
<text class="a" x="251" y="7220"><tspan x="251" dy="0">One or more warranties</tspan><tspan x="251" dy="11">associated with this type of</tspan><tspan x="251" dy="11">product.</tspan></text>
</g>

<g id="n-Spares">
<rect class="sh" x="250.5" y="7260.5" width="60" height="24"/>
<rect class="bx opt" x="246.5" y="7256.5" width="60" height="24"/>
<use href="#ref" x="246.5" y="7280.5"/>
<text class="nm" x="255.5" y="7272.5">Spares</text>
<use href="#plus" x="306" y="7268.5"/>
<text class="a" x="251" y="7295.6"><tspan x="251" dy="0">The set of Spares,</tspan><tspan x="251" dy="11">replacement parts, and</tspan><tspan x="251" dy="11">consumables needed for this</tspan><tspan x="251" dy="11">specific Type.</tspan></text>
</g>

<g id="n-Jobs">
<rect class="sh" x="250.5" y="7347.5" width="52" height="24"/>
<rect class="bx opt" x="246.5" y="7343.5" width="52" height="24"/>
<use href="#ref" x="246.5" y="7367.5"/>
<text class="nm" x="255.5" y="7359.5">Jobs</text>
<use href="#plus" x="298" y="7355.5"/>
<text class="a" x="251" y="7382.7"><tspan x="251" dy="0">COBie.Job provides a</tspan><tspan x="251" dy="11">mechanism through which</tspan><tspan x="251" dy="11">information about</tspan><tspan x="251" dy="11">preventative maintenance,</tspan><tspan x="251" dy="11">safety, testing, operational</tspan><tspan x="251" dy="11">and emergency procedures</tspan><tspan x="251" dy="11">may be communicated.</tspan><tspan x="251" dy="11">COBie.Job may contain a</tspan><tspan x="251" dy="11">general description of a</tspan><tspan x="251" dy="11">series of operations or tasks.</tspan><tspan x="251" dy="11">COBie.Job may also be</tspan><tspan x="251" dy="11">used to create small Critical</tspan><tspan x="251" dy="11">Path Method projects where</tspan><tspan x="251" dy="11">project teams want to</tspan><tspan x="251" dy="11">explicitly link resources to</tspan><tspan x="251" dy="11">specific operations within a</tspan><tspan x="251" dy="11">job.</tspan></text>
</g>

<g id="n-AssemblyAssignments">
<rect class="sh" x="250.5" y="7577.5" width="152" height="24"/>
<rect class="bx opt" x="246.5" y="7573.5" width="152" height="24"/>
<use href="#ref" x="246.5" y="7597.5"/>
<text class="nm" x="255.5" y="7589.5">AssemblyAssignments</text>
<use href="#plus" x="398" y="7585.5"/>
<text class="a" x="251" y="7612.8"><tspan x="251" dy="0">Assignment of Assemblies to an</tspan><tspan x="251" dy="11">Asset or AssetType.</tspan></text>
</g>

<g id="n-AssetTypeAttributes">
<rect class="sh" x="250.5" y="7642.5" width="136" height="24"/>
<rect class="bx opt" x="246.5" y="7638.5" width="136" height="24"/>
<use href="#ref" x="246.5" y="7662.5"/>
<text class="nm" x="255.5" y="7654.5">AssetTypeAttributes</text>
<use href="#plus" x="382" y="7650.5"/>
<text class="a" x="251" y="7677.8"><tspan x="251" dy="0">A set of Attribute elements</tspan><tspan x="251" dy="11">associated with an AssetType</tspan><tspan x="251" dy="11">element.</tspan></text>
</g>

<g id="n-AssetTypeDocuments">
<rect class="sh" x="250.5" y="7718.5" width="143" height="24"/>
<rect class="bx opt" x="246.5" y="7714.5" width="143" height="24"/>
<use href="#ref" x="246.5" y="7738.5"/>
<text class="nm" x="255.5" y="7730.5">AssetTypeDocuments</text>
<use href="#plus" x="389" y="7726.5"/>
<text class="a" x="251" y="7753.8"><tspan x="251" dy="0">A set of Document elements</tspan><tspan x="251" dy="11">associated with an AssetType</tspan><tspan x="251" dy="11">element.</tspan></text>
</g>

<g id="n-AssetTypeIssues">
<rect class="sh" x="250.5" y="7794.5" width="118" height="24"/>
<rect class="bx opt" x="246.5" y="7790.5" width="118" height="24"/>
<use href="#ref" x="246.5" y="7814.5"/>
<text class="nm" x="255.5" y="7806.5">AssetTypeIssues</text>
<use href="#plus" x="364" y="7802.5"/>
<text class="a" x="251" y="7829.5"><tspan x="251" dy="0">A set of Issue elements</tspan><tspan x="251" dy="11">associated with an</tspan><tspan x="251" dy="11">AssetType element.</tspan></text>
</g>
</svg>
